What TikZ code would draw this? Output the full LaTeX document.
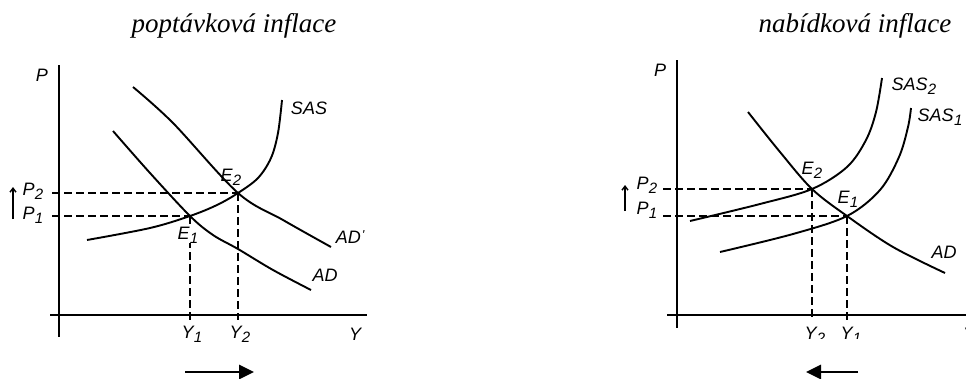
\documentclass[tikz,border=0pt]{standalone}
\usepackage{fontspec}
\setmainfont{Liberation Serif}
\newfontfamily\labfont{Liberation Sans}
\usetikzlibrary{arrows.meta}
\newcommand{\lbsub}[2]{#1\kern0.3pt\raisebox{-0.45ex}{\fontsize{15}{15}\selectfont #2}}
\tikzset{
  axisline/.style={line width=1.9pt},
  curveline/.style={line width=1.9pt},
  guide/.style={line width=1.4pt, dash pattern=on 8pt off 4pt},
  lbl/.style={font=\labfont\itshape\fontsize{18}{18}\selectfont, inner sep=1pt},
  ttl/.style={font=\itshape\fontsize{27}{27}\selectfont, inner sep=0pt},
  shiftarrow/.style={line width=2.8pt, -{Triangle[length=15pt,width=14pt]}},
  uparrow/.style={line width=1.4pt, -{Straight Barb[length=4pt,width=6pt]}}
}
\begin{document}
\begin{tikzpicture}[x=1pt,y=-1pt]
\useasboundingbox[fill=white] (0,0) rectangle (966,378);

% ================= LEFT: poptavkova inflace =================
\node[ttl] (ttlA) at (234,26) {poptávková inflace};

\coordinate (AyTop) at (59,65);
\coordinate (AyBot) at (59,337);
\coordinate (AxL) at (50,315);
\coordinate (AxR) at (367,315);
\draw[axisline] (AyTop) -- (AyBot);
\draw[axisline] (AxL) -- (AxR);

\coordinate (AE1) at (190,216);
\coordinate (AE2) at (238,193);
\coordinate (AP1) at (52,216);
\coordinate (AP2) at (52,193);
\coordinate (AY1) at (190,320);
\coordinate (AY2) at (238,320);

\draw[guide] (AP2) -- (AE2);
\draw[guide] (AP1) -- (AE1);
\draw[guide] (AE1) -- (AY1);
\draw[guide] (AE2) -- (AY2);

% SAS
\draw[curveline] plot[smooth, tension=0.55] coordinates {(87,240) (150,228) (190,216) (217,205) (238,193) (258,178) (271,158) (278,133) (282,100)};
% AD
\draw[curveline] plot[smooth, tension=0.55] coordinates {(113,131) (150,173) (190,216) (213,235) (238,249) (273,270) (311,290)};
% AD'
\draw[curveline] plot[smooth, tension=0.55] coordinates {(133,87) (173,123) (238,193) (283,220) (331,247)};

\node[lbl] (AlP) at (42,75) {P};
\node[lbl] (AlSAS) at (309,108) {SAS};
\node[lbl] (AlAD) at (325,275) {AD};
\node[lbl] (AlADp) at (350,237) {AD\kern1pt\raisebox{0.4ex}{\fontsize{13}{13}\selectfont\textquotesingle}};
\node[lbl] (AlE2) at (231,177) {\lbsub{E}{2}};
\node[lbl, fill=white, inner sep=0pt] (AlE1) at (188,235) {\lbsub{E}{1}};
\node[lbl] (AlP2) at (33,191) {\lbsub{P}{2}};
\node[lbl] (AlP1) at (33,215) {\lbsub{P}{1}};
\node[lbl] (AlY1) at (192,334) {\lbsub{Y}{1}};
\node[lbl] (AlY2) at (240,334) {\lbsub{Y}{2}};
\node[lbl] (AlY) at (355,334) {Y};

\coordinate (AupS) at (13,219);
\coordinate (AupE) at (13,187);
\draw[uparrow] (AupS) -- (AupE);

\coordinate (AarS) at (185,372);
\coordinate (AarE) at (254,372);
\draw[shiftarrow] (AarS) -- (AarE);

% ================= RIGHT: nabidkova inflace =================
\node[ttl] (ttlB) at (855,26) {nabídková inflace};

\begin{scope}
\clip (560,40) rectangle (966,338);
\coordinate (ByTop) at (677,60);
\coordinate (ByBot) at (677,328);
\coordinate (BxL) at (667,315);
\coordinate (BxR) at (970,315);
\draw[axisline] (ByTop) -- (ByBot);
\draw[axisline] (BxL) -- (BxR);

\coordinate (BE2) at (812,189);
\coordinate (BE1) at (847,216);
\coordinate (BP2) at (663,189);
\coordinate (BP1) at (663,216);
\coordinate (BY2) at (812,320);
\coordinate (BY1) at (847,320);

\draw[guide] (BP2) -- (BE2);
\draw[guide] (BP1) -- (BE1);
\draw[guide] (BE2) -- (BY2);
\draw[guide] (BE1) -- (BY1);

% SAS2
\draw[curveline] plot[smooth, tension=0.55] coordinates {(690,221) (760,204) (812,189) (847,167) (866,140) (876,112) (882,78)};
% SAS1
\draw[curveline] plot[smooth, tension=0.55] coordinates {(720,252) (793,234) (847,216) (880,190) (899,157) (908,127) (911,108)};
% AD
\draw[curveline] plot[smooth, tension=0.55] coordinates {(748,112) (780,152) (812,189) (847,216) (893,247) (945,273)};

\node[lbl] (BlP) at (660,70) {P};
\node[lbl] (BlSAS2) at (914,86) {\lbsub{SAS}{2}};
\node[lbl] (BlSAS1) at (940,117) {\lbsub{SAS}{1}};
\node[lbl] (BlAD) at (944,252) {AD};
\node[lbl] (BlE2) at (812,170) {\lbsub{E}{2}};
\node[lbl] (BlE1) at (848,199) {\lbsub{E}{1}};
\node[lbl] (BlP2) at (647,185) {\lbsub{P}{2}};
\node[lbl] (BlP1) at (647,210) {\lbsub{P}{1}};
\node[lbl] (BlY2) at (815,335) {\lbsub{Y}{2}};
\node[lbl] (BlY1) at (851,335) {\lbsub{Y}{1}};
\node[lbl] (BlY) at (969,334) {Y};
\end{scope}

\coordinate (BupS) at (625,211);
\coordinate (BupE) at (625,185);
\draw[uparrow] (BupS) -- (BupE);

\coordinate (BarS) at (858,372);
\coordinate (BarE) at (806,372);
\draw[shiftarrow] (BarS) -- (BarE);
\end{tikzpicture}
\end{document}
